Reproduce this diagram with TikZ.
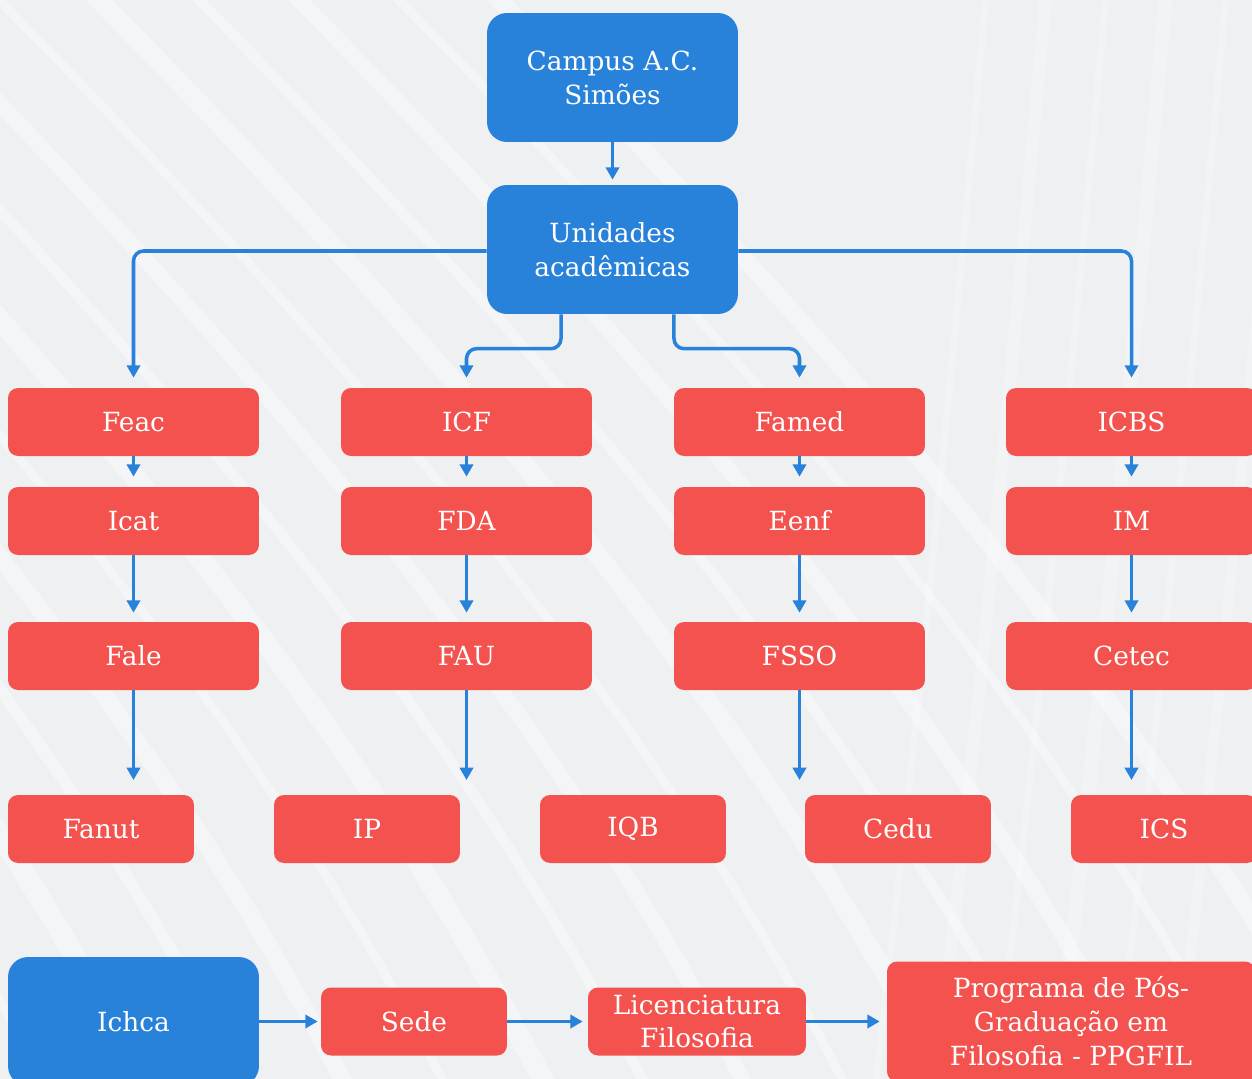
\documentclass[tikz,border=0pt]{standalone}
\usepackage{fontspec}
\setmainfont{DejaVu Serif}
\usetikzlibrary{arrows.meta,calc}
\definecolor{bgc}{HTML}{EEF0F2}
\definecolor{bluec}{HTML}{2882DA}
\definecolor{redc}{HTML}{F4524E}
\begin{document}
\begin{tikzpicture}[x=0.02cm,y=-0.02cm,
  base/.style={text=white, align=center, inner sep=0pt, rounded corners=0.2cm,
    font=\fontsize{15}{19.3}\selectfont},
  bnode/.style={base, fill=bluec, rounded corners=0.4cm, minimum width=5.02cm, minimum height=2.58cm},
  rnode/.style={base, fill=redc, minimum width=5.02cm, minimum height=1.36cm},
  snode/.style={base, fill=redc, minimum width=3.72cm, minimum height=1.36cm},
  conn/.style={draw=bluec, line width=2pt, -{Triangle[length=7pt,width=7.5pt]}, rounded corners=0.2cm},
  streak/.style={white, opacity=0.35, line width=#1},
  vstreak/.style={white, opacity=0.25, line width=#1},
]
\useasboundingbox (0,0) rectangle (1252,1079);
\clip (0,0) rectangle (1252,1079);
\fill[bgc] (0,0) rectangle (1252,1079);
% background streaks (diagonal)
\foreach \s/\w in {-1100/6pt,-1000/10pt,-900/5pt,-800/12pt,-700/7pt,-600/10pt,-500/5pt,-400/12pt,-300/6pt,-200/9pt,-100/5pt,0/11pt,100/6pt,200/9pt,300/5pt,400/10pt}
  \draw[streak=\w] (\s,-100) .. controls (\s+450,350) and (\s+800,750) .. (\s+1000,1200);
% background streaks (near vertical, right side)
\foreach \s/\w in {930/4pt,990/7pt,1050/4pt,1110/8pt,1170/4pt,1230/6pt}
  \draw[vstreak=\w] (\s+60,-50) .. controls (\s+20,400) and (\s-20,800) .. (\s-60,1130);

% top nodes
\node[bnode] (campus) at (612.5,77.5) {Campus A.C.\\Simões};
\node[bnode] (unid) at (612.5,249.5) {Unidades\\acadêmicas};
% row 1
\node[rnode] (feac) at (133.5,422) {Feac};
\node[rnode] (icf) at (466.5,422) {ICF};
\node[rnode] (famed) at (799.5,422) {Famed};
\node[rnode] (icbs) at (1131.5,422) {ICBS};
% row 2
\node[rnode] (icat) at (133.5,521) {Icat};
\node[rnode] (fda) at (466.5,521) {FDA};
\node[rnode] (eenf) at (799.5,521) {Eenf};
\node[rnode] (im) at (1131.5,521) {IM};
% row 3
\node[rnode] (fale) at (133.5,656) {Fale};
\node[rnode] (fau) at (466.5,656) {FAU};
\node[rnode] (fsso) at (799.5,656) {FSSO};
\node[rnode] (cetec) at (1131.5,656) {Cetec};
% row 4
\node[snode] (fanut) at (101,829) {Fanut};
\node[snode] (ip) at (367,829) {IP};
\node[snode] (iqb) at (633,829) {IQB};
\node[snode] (cedu) at (898,829) {Cedu};
\node[snode] (ics) at (1164,829) {ICS};
% bottom row
\node[bnode] (ichca) at (133.5,1021.5) {Ichca};
\node[snode] (sede) at (414,1021.5) {Sede};
\node[base, fill=redc, minimum width=4.36cm, minimum height=1.36cm] (lic) at (697,1021.5) {Licenciatura\\Filosofia};
\node[base, fill=redc, minimum width=7.36cm, minimum height=2.4cm] (ppg) at (1071,1021.5) {Programa de Pós-\\Graduação em\\Filosofia - PPGFIL};

% free ends
\coordinate (e1) at (133.5,780);
\coordinate (e2) at (466.5,780);
\coordinate (e3) at (799.5,780);
\coordinate (e4) at (1131.5,780);

% connectors
\draw[conn, shorten >=0.1cm] (campus) -- (unid);
\draw[conn, shorten >=0.2cm] ([yshift=-0.03cm]unid.west) -| (feac.north);
\draw[conn, shorten >=0.2cm] ([yshift=-0.03cm]unid.east) -| (icbs.north);
\draw[conn] ([xshift=-1.03cm]unid.south) |- ([yshift=0.78cm]icf.north) -- ([yshift=0.2cm]icf.north);
\draw[conn] ([xshift=1.23cm]unid.south) |- ([yshift=0.78cm]famed.north) -- ([yshift=0.2cm]famed.north);

\foreach \a/\b in {feac/icat,icf/fda,famed/eenf,icbs/im}
  \draw[conn, shorten >=0.2cm] (\a) -- (\b);
\foreach \a/\b in {icat/fale,fda/fau,eenf/fsso,im/cetec}
  \draw[conn, shorten >=0.18cm] (\a) -- (\b);
\foreach \a/\b in {fale/e1,fau/e2,fsso/e3,cetec/e4}
  \draw[conn] (\a) -- (\b);

\draw[conn, shorten >=0.06cm] (ichca) -- (sede);
\draw[conn, shorten >=0.1cm] (sede) -- (lic);
\draw[conn, shorten >=0.14cm] (lic) -- (ppg);
\end{tikzpicture}
\end{document}
